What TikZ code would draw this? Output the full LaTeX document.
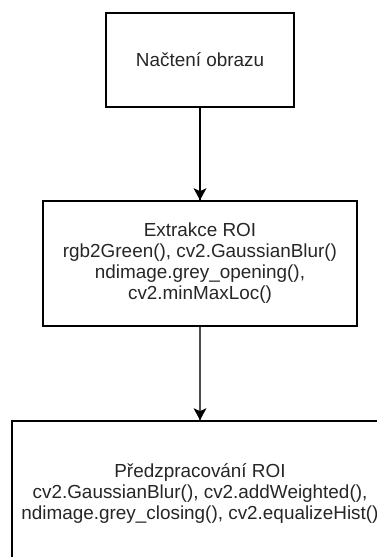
\documentclass[tikz,border=0pt]{standalone}
\usepackage{fontspec}
\setmainfont{Liberation Sans}
\usepackage{tikz}

\begin{document}
\begin{tikzpicture}[x=1pt,y=1pt]
\tikzstyle{every node}+=[inner sep=0pt]
\tikzstyle{stepbox}=[draw=black, line width=1.7pt, rectangle, align=center,
  text=black!85, font=\fontsize{18.9}{21}\selectfont]
\useasboundingbox (0,0) rectangle (377,-557);
\clip (0,0) rectangle (377,-557);
\node [stepbox, minimum width=188pt, minimum height=94pt] (nacteni) at (200,-60) {Načtení obrazu};
\node [stepbox, minimum width=314pt, minimum height=125pt] (extrakce) at (200,-263.5)
  {Extrakce ROI\\rgb2Green(), cv2.GaussianBlur()\\ndimage.grey\_opening(),\\cv2.minMaxLoc()};
\node [stepbox, minimum width=376pt, minimum height=144pt] (predzprac) at (200,-493)
  {Předzpracování ROI\\cv2.GaussianBlur(), cv2.addWeighted(),\\ndimage.grey\_closing(), cv2.equalizeHist()};
\draw [black, line width=1.7pt] (nacteni.south) -- (extrakce.north);
\fill [black] (extrakce.north) -- ++(-6.5,12) -- ++(6.5,-3) -- ++(6.5,3) -- cycle;
\draw [black!70, line width=1.7pt] (extrakce.south) -- (predzprac.north);
\fill [black] (predzprac.north) -- ++(-6.5,12) -- ++(6.5,-3) -- ++(6.5,3) -- cycle;
\end{tikzpicture}
\end{document}
